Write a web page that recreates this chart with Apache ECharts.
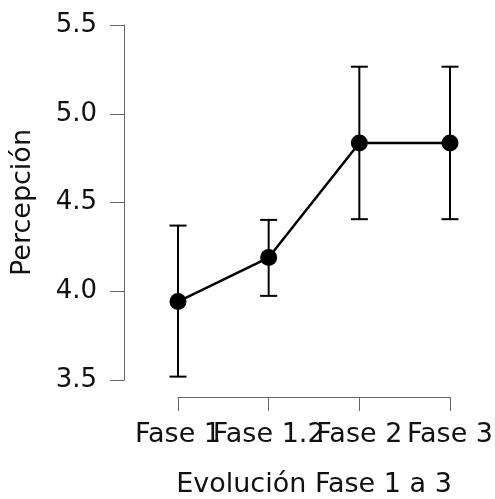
<!DOCTYPE html>
<html>
<head>
<meta charset="utf-8">
<script src="https://cdn.jsdelivr.net/npm/echarts@6/dist/echarts.min.js"></script>
<style>
  html, body { margin: 0; padding: 0; background: #fff; }
  #chart { width: 495px; height: 499px; }
</style>
</head>
<body>
<div id="chart"></div>
<script>
const categories = ['Fase 1', 'Fase 1.2', 'Fase 2', 'Fase 3'];
const means = [3.942, 4.19, 4.835, 4.835];
const lower = [3.519, 3.974, 4.406, 4.406];
const upper = [4.37, 4.402, 5.265, 5.265];
const yTicks = [3.5, 4.0, 4.5, 5.0, 5.5];

const font = 'DejaVu Sans';
const errData = categories.map((c, i) => [i, lower[i], upper[i]]);

let myChart = echarts.init(document.getElementById('chart'));
myChart.setOption({
  animation: false,
  grid: { left: 178, right: 45, top: 25, bottom: 119, containLabel: false, outerBoundsMode: 'none' },
  xAxis: {
    type: 'category',
    data: categories,
    boundaryGap: false,
    offset: 17,
    name: 'Evolución Fase 1 a 3',
    nameLocation: 'middle',
    nameGap: 74,
    nameTextStyle: { fontFamily: font, fontSize: 27, color: '#111' },
    axisLine: { lineStyle: { color: '#666', width: 1 } },
    axisTick: { length: 14, alignWithLabel: true, lineStyle: { color: '#666' } },
    axisLabel: { fontFamily: font, fontSize: 27, color: '#111', margin: 24, interval: 0 },
    splitLine: { show: false }
  },
  yAxis: {
    type: 'value',
    min: yTicks[0],
    max: yTicks[yTicks.length - 1],
    interval: 0.5,
    offset: 54,
    name: 'Percepción',
    nameLocation: 'middle',
    nameGap: 88,
    nameTextStyle: { fontFamily: font, fontSize: 27, color: '#111' },
    axisLine: { show: true, lineStyle: { color: '#666', width: 1 } },
    axisTick: { show: true, length: 14, lineStyle: { color: '#666' } },
    axisLabel: {
      fontFamily: font, fontSize: 26, color: '#111', margin: 27,
      formatter: v => v.toFixed(1)
    },
    splitLine: { show: false }
  },
  series: [
    {
      type: 'custom',
      data: errData,
      z: 1,
      renderItem: function (params, api) {
        const x = api.value(0);
        const lo = api.coord([x, api.value(1)]);
        const hi = api.coord([x, api.value(2)]);
        const w = 8.5;
        const style = { stroke: '#000', lineWidth: 2, fill: null };
        return {
          type: 'group',
          children: [
            { type: 'line', shape: { x1: lo[0], y1: lo[1], x2: hi[0], y2: hi[1] }, style: style },
            { type: 'line', shape: { x1: lo[0] - w, y1: lo[1], x2: lo[0] + w, y2: lo[1] }, style: style },
            { type: 'line', shape: { x1: hi[0] - w, y1: hi[1], x2: hi[0] + w, y2: hi[1] }, style: style }
          ]
        };
      }
    },
    {
      type: 'line',
      data: means,
      z: 2,
      symbol: 'circle',
      symbolSize: 17,
      lineStyle: { color: '#000', width: 2.5 },
      itemStyle: { color: '#000' }
    }
  ]
});
</script>
</body>
</html>
